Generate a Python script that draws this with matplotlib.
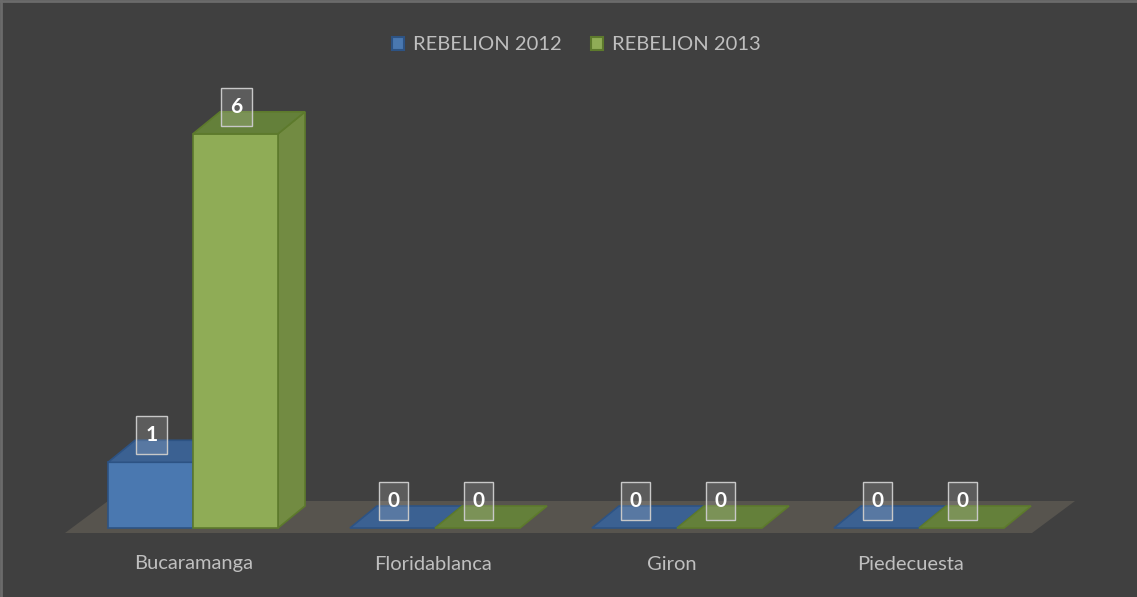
import matplotlib.pyplot as plt
from matplotlib.patches import Polygon, Patch
from matplotlib.lines import Line2D

# Chart data
categories = ["Bucaramanga", "Floridablanca", "Giron", "Piedecuesta"]
rebelion_2012 = [1, 0, 0, 0]
rebelion_2013 = [6, 0, 0, 0]
series_names = ["REBELION 2012", "REBELION 2013"]

# Colours
BG = "#404040"
TXT = "#bfbfbf"
FLOOR = "#57544e"
palette = {
    "2012": dict(front="#4a78b0", top="#3b6192", side="#3a6394", edge="#2d5384"),
    "2013": dict(front="#8fac56", top="#64803a", side="#728b42", edge="#5d7a2c"),
}

plt.rcParams["font.family"] = ["Lato", "DejaVu Sans"]

W, H = 1137, 597
fig = plt.figure(figsize=(W / 100, H / 100), dpi=100)
fig.patch.set_facecolor(BG)
ax = fig.add_axes([0, 0, 1, 1])
ax.set_facecolor(BG)
ax.axis("off")

# scale: pixels per category / per unit value
PX_X, PX_Y = 242.0, 65.7
X0_PX, Y0_PX = 193, 69
ax.set_xlim(-X0_PX / PX_X, (W - X0_PX) / PX_X)
ax.set_ylim(-Y0_PX / PX_Y, (H - Y0_PX) / PX_Y)

BW = 85 / PX_X          # bar width
DX, DY = 27 / PX_X, 22 / PX_Y   # bar depth


def bar3d(ax, xl, h, c):
    front = [(xl, 0), (xl + BW, 0), (xl + BW, h), (xl, h)]
    top = [(xl, h), (xl + BW, h), (xl + BW + DX, h + DY), (xl + DX, h + DY)]
    side = [(xl + BW, 0), (xl + BW + DX, DY), (xl + BW + DX, h + DY), (xl + BW, h)]
    if h > 0:
        ax.add_patch(Polygon(side, closed=True, fc=c["side"], ec=c["edge"], lw=1.2, zorder=3))
        ax.add_patch(Polygon(front, closed=True, fc=c["front"], ec=c["edge"], lw=1.2, zorder=3))
    ax.add_patch(Polygon(top, closed=True, fc=c["top"], ec=c["edge"], lw=1.2, zorder=3))


# floor
fl, fr = (65 - X0_PX) / PX_X, (1032 - X0_PX) / PX_X
fb = 5 / PX_Y
FDX, FDY = 43 / PX_X, 32 / PX_Y
ax.add_patch(Polygon([(fl, -fb), (fr, -fb), (fr + FDX, -fb + FDY), (fl + FDX, -fb + FDY)],
                     closed=True, fc=FLOOR, ec="none", zorder=1))

box = dict(boxstyle="square,pad=0.43", fc=(1, 1, 1, 0.15), ec="#c8c8c8", lw=1)
for i, cat in enumerate(categories):
    for xl, h, key in [(i - BW, rebelion_2012[i], "2012"), (i, rebelion_2013[i], "2013")]:
        bar3d(ax, xl, h, palette[key])
        ax.annotate(str(h), xy=(xl + BW / 2 + 1 / PX_X, h), xytext=(0, 27), textcoords="offset pixels",
                    ha="center", va="center", fontsize=15, fontweight="bold",
                    color="white", bbox=box, zorder=5)
    # slight perspective drift of the category labels
    shift = (1 - 3.3 * i) / PX_X
    ax.annotate(cat, xy=(i + shift, 0), xytext=(0, -36), textcoords="offset pixels",
                ha="center", va="center", fontsize=14.5, color=TXT)

handles = [Patch(fc=palette["2012"]["front"], ec=palette["2012"]["edge"], lw=1.5),
           Patch(fc=palette["2013"]["front"], ec=palette["2013"]["edge"], lw=1.5)]
leg = fig.legend(handles, series_names, loc="center", bbox_to_anchor=(576 / W, 1 - 45 / H),
                 ncol=2, frameon=False, fontsize=14.5, handlelength=0.6, handleheight=0.6,
                 handletextpad=0.45, columnspacing=1.45, labelcolor=TXT)

# thin border on the top and left edges
fig.add_artist(Line2D([0.001, 0.001], [0, 1], transform=fig.transFigure, color="#6b6b6b", lw=2))
fig.add_artist(Line2D([0, 1], [0.998, 0.998], transform=fig.transFigure, color="#6b6b6b", lw=2))

fig.savefig("out.png", dpi=100, facecolor=BG)
